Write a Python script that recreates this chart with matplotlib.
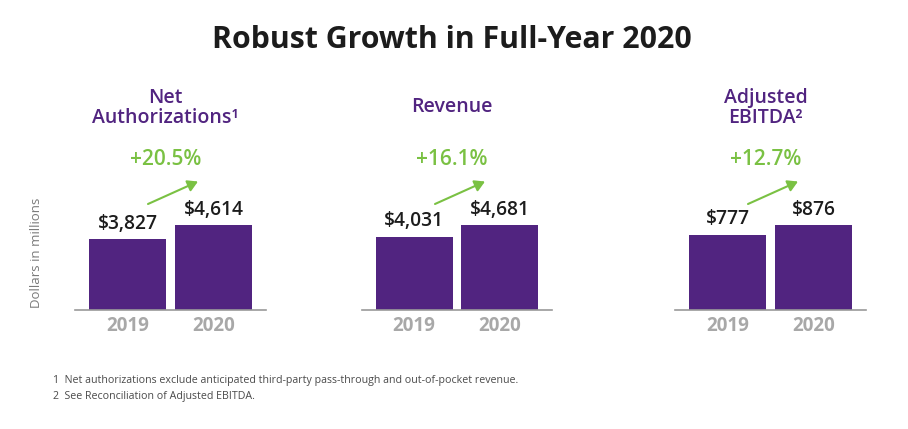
import matplotlib
matplotlib.use("Agg")
import matplotlib.pyplot as plt

# ---- data ----
panel_titles = ["Net\nAuthorizations\u00b9", "Revenue", "Adjusted\nEBITDA\u00b2"]
years = ["2019", "2020"]
values_2019 = [3827, 4031, 777]
values_2020 = [4614, 4681, 876]
growth_labels = ["+20.5%", "+16.1%", "+12.7%"]
value_labels_2019 = ["$3,827", "$4,031", "$777"]
value_labels_2020 = ["$4,614", "$4,681", "$876"]
footnotes = ["1  Net authorizations exclude anticipated third-party pass-through and out-of-pocket revenue.",
             "2  See Reconciliation of Adjusted EBITDA."]

PURPLE = "#512480"
GREEN = "#7AC143"
GRAY_YEAR = "#A8A8A8"
DARK = "#1C1C1C"

W, H = 908, 429
fig = plt.figure(figsize=(W / 100, H / 100), dpi=100)
plt.rcParams['font.family'] = ['Open Sans', 'DejaVu Sans']

def fx(px):
    return px / W

def fy(py):
    return 1 - py / H

panel_px = [(75, 266), (362, 552), (675, 866)]
base_y, top_y = 310, 60
bar_h_px = 85.0

fig.text(fx(452), fy(48), "Robust Growth in Full-Year 2020", ha="center", va="baseline",
         fontsize=21.8, fontweight="bold", color=DARK)

for i, (l, r) in enumerate(panel_px):
    ax = fig.add_axes([fx(l), fy(base_y), fx(r - l), (base_y - top_y) / H])
    vals = [values_2019[i], values_2020[i]]
    ax.bar([0, 1], vals, width=0.895, color=PURPLE)
    ax.set_xlim(-0.61, 1.61)
    ymax = values_2020[i] * (base_y - top_y) / bar_h_px
    ax.set_ylim(0, ymax)
    for s in ["top", "right", "left"]:
        ax.spines[s].set_visible(False)
    ax.spines["bottom"].set_color("#9A9A9A")
    ax.spines["bottom"].set_linewidth(1.2)
    ax.set_yticks([])
    ax.set_xticks([0, 1])
    ax.set_xticklabels(years, fontsize=13.5, fontweight="bold", color=GRAY_YEAR)
    ax.tick_params(axis="x", length=0, pad=4)
    ax.patch.set_alpha(0)
    labs = [value_labels_2019[i], value_labels_2020[i]]
    for x, v, t in zip([0, 1], vals, labs):
        ax.annotate(t, (x, v), xytext=(0, 7.5), textcoords="offset points",
                    ha="center", va="baseline", fontsize=13.8, fontweight="semibold", color=DARK)
    cx = (l + r) / 2 - 5
    title_base = 123 if "\n" in panel_titles[i] else 112
    fig.text(fx(cx), fy(title_base), panel_titles[i], ha="center", va="baseline",
             fontsize=14, fontweight="semibold", color=PURPLE, linespacing=1.0)
    fig.text(fx(cx), fy(165), growth_labels[i], ha="center", va="baseline",
             fontsize=15, fontweight="semibold", color=GREEN)
    x0 = l + (148 - 75)
    fig.add_artist(matplotlib.patches.FancyArrowPatch(
        (fx(x0), fy(204)), (fx(x0 + 50), fy(181.5)), transform=fig.transFigure,
        arrowstyle="-|>,head_length=6,head_width=3.5", color=GREEN, lw=1.5,
        shrinkA=0, shrinkB=0))

fig.text(fx(36), fy(253), "Dollars in millions", rotation=90, ha="center", va="center",
         fontsize=9.5, color="#7A7A7A")

fig.text(fx(53), fy(381), footnotes[0], ha="left", va="center", fontsize=7.7, color="#4A4A4A")
fig.text(fx(53), fy(397), footnotes[1], ha="left", va="center", fontsize=7.7, color="#4A4A4A")

fig.savefig("out.png", dpi=100, facecolor="white")
